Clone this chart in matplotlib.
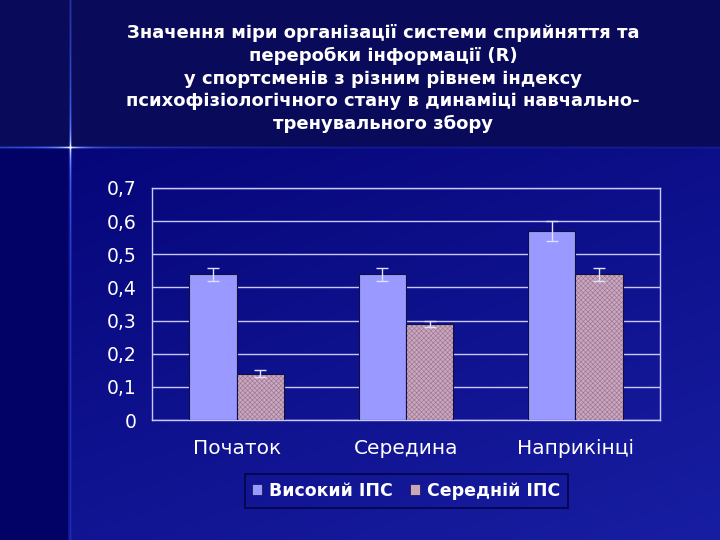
import numpy as np
import matplotlib.pyplot as plt
from matplotlib.patches import Patch

# дані
periods = ['Початок', 'Середина', 'Наприкінці']
high_ips = [0.44, 0.44, 0.57]
high_err = [0.02, 0.02, 0.03]
mid_ips = [0.14, 0.29, 0.44]
mid_err = [0.01, 0.01, 0.02]
y_ticks = [0, 0.1, 0.2, 0.3, 0.4, 0.5, 0.6, 0.7]
y_labels = ['0', '0,1', '0,2', '0,3', '0,4', '0,5', '0,6', '0,7']
legend_labels = ['Високий ІПС', 'Середній ІПС']

title = ('Значення міри організації системи сприйняття та\n'
         'переробки інформації (R)\n'
         'у спортсменів з різним рівнем індексу\n'
         'психофізіологічного стану в динаміці навчально-\n'
         'тренувального збору')

plt.rcParams['hatch.linewidth'] = 0.4

fig = plt.figure(figsize=(7.2, 5.4), dpi=100)

# фон слайду
bg = fig.add_axes([0, 0, 1, 1])
bg.set_xlim(0, 720)
bg.set_ylim(540, 0)
bg.axis('off')
yy, xx = np.mgrid[0:540, 0:720]
t = (yy - 147) / 393.0 * 0.6 + xx / 720.0 * 0.4
c0 = np.array([0x05, 0x05, 0x78]) / 255
c1 = np.array([0x18, 0x1e, 0xa2]) / 255
img = c0 + (c1 - c0) * np.clip(t, 0, 1)[..., None]
img[yy < 147] = np.array([0x0a, 0x0a, 0x5a]) / 255
img[(yy >= 147) & (xx < 68)] = np.array([0x02, 0x02, 0x66]) / 255

# зірочка: світлі лінії, що згасають від центру
cx, cy = 70, 147
glow = np.array([0x40, 0x66, 0xff]) / 255
h_int = (0.8 * np.exp(-np.abs(xx - cx) / 110.0) + 0.2) * np.exp(-((yy - cy) / 1.0) ** 2)
h_int[xx > cx] *= 0.75
v_int = (0.8 * np.exp(-np.abs(yy - cy) / 110.0) + 0.25) * np.exp(-((xx - cx) / 1.0) ** 2)
g = np.clip(h_int + v_int, 0, 1)[..., None]
img = img * (1 - g) + glow * g
core = (np.exp(-np.abs(xx - cx) / 10.0) * np.exp(-((yy - cy) / 0.8) ** 2)
        + np.exp(-np.abs(yy - cy) / 10.0) * np.exp(-((xx - cx) / 0.8) ** 2))
core = np.clip(core, 0, 1)[..., None]
img = img * (1 - core) + core
bg.imshow(img, extent=(0, 720, 540, 0), aspect='auto', interpolation='nearest')

fig.text(0.532, 0.955, title, ha='center', va='top', color='white',
         fontsize=13, fontweight='bold', family='DejaVu Sans',
         linespacing=1.33)

ax = fig.add_axes([0.2111, 0.2222, 0.7056, 0.4297])
ax.patch.set_visible(False)
x = np.arange(len(periods))
w = 0.28
grid_c = '#c8c8ff'

ax.bar(x - w / 2, high_ips, w, color='#9999ff', edgecolor='#101040',
       linewidth=0.8, zorder=3)
ax.bar(x + w / 2, mid_ips, w, color='#c8a8bf', edgecolor='#9c7090',
       hatch='xxxxxxx', linewidth=0, zorder=3)
ax.bar(x + w / 2, mid_ips, w, fill=False, edgecolor='#101040',
       linewidth=0.8, zorder=3)
ax.errorbar(x - w / 2, high_ips, yerr=high_err, fmt='none',
            ecolor='#e0e0ff', elinewidth=1, capsize=4, capthick=1, zorder=4)
ax.errorbar(x + w / 2, mid_ips, yerr=mid_err, fmt='none',
            ecolor='#e0e0ff', elinewidth=1, capsize=4, capthick=1, zorder=4)

ax.set_xlim(-0.5, 2.5)
ax.set_ylim(0, 0.7)
ax.set_yticks(y_ticks)
ax.set_yticklabels(y_labels)
ax.set_xticks(x)
ax.set_xticklabels(periods)
ax.grid(axis='y', color=grid_c, lw=1, zorder=1)
for s in ax.spines.values():
    s.set_color(grid_c)
    s.set_linewidth(1)
ax.tick_params(length=0, colors='white')
ax.tick_params(axis='y', pad=11, labelsize=13.5)
ax.tick_params(axis='x', pad=14, labelsize=14.5)
for lab in ax.get_xticklabels() + ax.get_yticklabels():
    lab.set_family('DejaVu Sans')

handles = [Patch(facecolor='#9999ff', edgecolor='#101040', lw=0.5),
           Patch(facecolor='#c8a8bf', edgecolor='#101040', lw=0.5)]
leg = fig.legend(handles, legend_labels, loc='center',
                 bbox_to_anchor=(0.564, 0.091), ncol=2, frameon=True,
                 fancybox=False, handlelength=0.55, handleheight=0.55,
                 handletextpad=0.4, columnspacing=1.0, borderpad=0.45,
                 prop={'family': 'DejaVu Sans', 'size': 12.5, 'weight': 'bold'})
leg.get_frame().set_facecolor('none')
leg.get_frame().set_edgecolor('#000030')
leg.get_frame().set_linewidth(1.2)
for txt in leg.get_texts():
    txt.set_color('white')

fig.savefig('out.png', dpi=100)
